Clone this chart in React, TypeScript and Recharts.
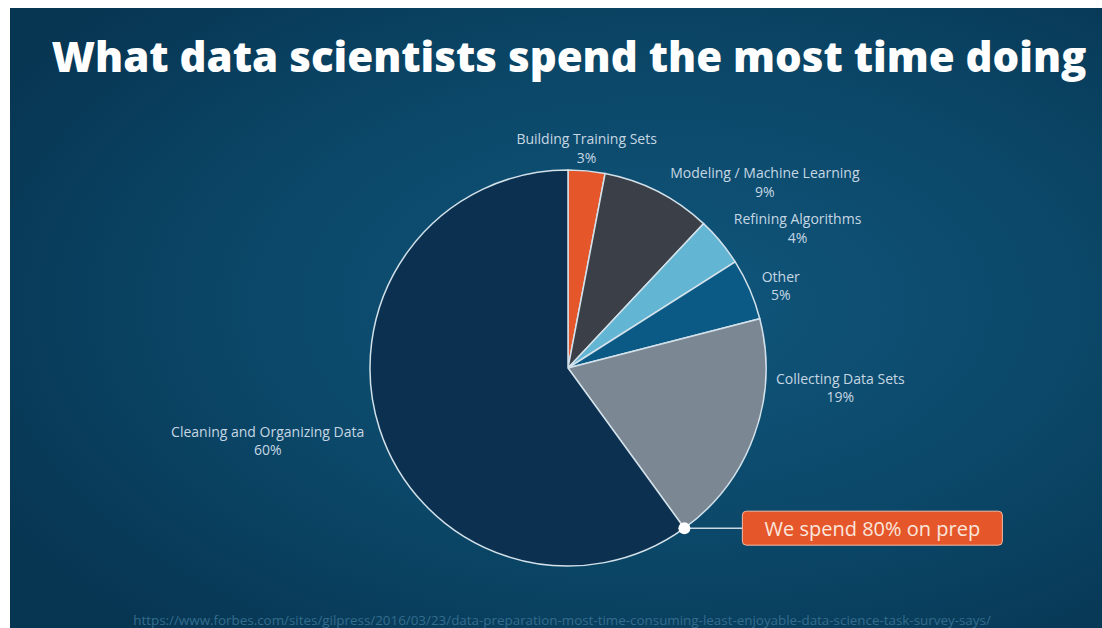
import React from "react";
import { PieChart, Pie, Cell } from "recharts";

const categories = [
  "Building Training Sets",
  "Modeling / Machine Learning",
  "Refining Algorithms",
  "Other",
  "Collecting Data Sets",
  "Cleaning and Organizing Data",
];
const shares = [3, 9, 4, 5, 19, 60];
const percentLabels = ["3%", "9%", "4%", "5%", "19%", "60%"];
const sliceColors = ["#e5562b", "#3b3f47", "#62b5d3", "#0b5a86", "#7b8894", "#0c3150"];
// label offsets from the outer-edge midpoint of each slice (layout only)
const labelOffsets = [
  [0, -32],
  [107, -19],
  [77, -23],
  [31, -13],
  [86, -57],
  [-112, 2],
];
const title = "What data scientists spend the most time doing";
const calloutText = "We spend 80% on prep";
const sourceUrl =
  "https://www.forbes.com/sites/gilpress/2016/03/23/data-preparation-most-time-consuming-least-enjoyable-data-science-task-survey-says/";

const data = categories.map((name, i) => ({ name, value: shares[i], pct: percentLabels[i] }));

const RAD = Math.PI / 180;
const FONT = "'Open Sans', 'Noto Sans', sans-serif";

const renderLabel = (props: any) => {
  const { cx, cy, midAngle, outerRadius, index, percent } = props;
  const px = cx + outerRadius * Math.cos(-midAngle * RAD);
  const py = cy + outerRadius * Math.sin(-midAngle * RAD);
  const [dx, dy] = labelOffsets[index];
  const lx = px + dx;
  const ly = py + dy;
  const label = (
    <g key={`lbl-${index}`}>
      <text x={lx} y={ly} textAnchor="middle" dominantBaseline="central" fill="#c6d7e3" fontSize={14} fontFamily={FONT}>
        {categories[index]}
      </text>
      <text x={lx} y={ly + 18.5} textAnchor="middle" dominantBaseline="central" fill="#c6d7e3" fontSize={14} fontFamily={FONT}>
        {percentLabels[index]}
      </text>
    </g>
  );
  if (index !== categories.length - 1) return label;
  // callout anchored at start boundary of the last slice (= end of the prep share)
  const startA = midAngle + percent * 180;
  const dxp = cx + outerRadius * Math.cos(-startA * RAD);
  const dyp = cy + outerRadius * Math.sin(-startA * RAD);
  const boxX = dxp + 58;
  const boxW = 260;
  const boxH = 34;
  return (
    <g key={`lbl-${index}`}>
      {label}
      <line x1={dxp} y1={dyp} x2={boxX} y2={dyp} stroke="#c9d9e3" strokeWidth={1.5} />
      <circle cx={dxp} cy={dyp} r={6} fill="#ffffff" />
      <rect x={boxX} y={dyp - boxH / 2} width={boxW} height={boxH} rx={4} fill="#e5562b" stroke="#f2b9a3" strokeWidth={1} />
      <text x={boxX + boxW / 2} y={dyp} textAnchor="middle" dominantBaseline="central" fill="#fbe6dc" fontSize={20} fontFamily={FONT}>
        {calloutText}
      </text>
    </g>
  );
};

export default function App() {
  return (
    <div style={{ position: "absolute", left: 0, top: 0, width: 1102, height: 628, background: "#ffffff", overflow: "hidden" }}>
      <svg width={1102} height={628} style={{ position: "absolute", left: 0, top: 0 }}>
        <defs>
          <radialGradient id="bg" cx="60%" cy="48%" r="70%">
            <stop offset="0%" stopColor="#10567c" />
            <stop offset="55%" stopColor="#0b4768" />
            <stop offset="100%" stopColor="#073653" />
          </radialGradient>
        </defs>
        <rect x={10} y={8} width={1092} height={620} fill="url(#bg)" />
        <text x={569} y={72} textAnchor="middle" fill="#ffffff" fontSize={42} fontWeight={800} fontFamily={FONT}>
          {title}
        </text>
        <text x={562} y={625} textAnchor="middle" fill="#336d8d" fontSize={13.4} fontFamily={FONT}>
          {sourceUrl}
        </text>
      </svg>
      <div style={{ position: "absolute", left: 0, top: 0 }}>
        <PieChart width={1102} height={628} margin={{ top: 0, right: 0, bottom: 0, left: 0 }}>
          <Pie
            data={data}
            dataKey="value"
            nameKey="name"
            cx={568}
            cy={368}
            outerRadius={198}
            startAngle={90}
            endAngle={-270}
            stroke="#d3e1ea"
            strokeWidth={1.5}
            labelLine={false}
            label={renderLabel}
            isAnimationActive={false}
          >
            {data.map((d, i) => (
              <Cell key={d.name} fill={sliceColors[i]} />
            ))}
          </Pie>
        </PieChart>
      </div>
    </div>
  );
}
